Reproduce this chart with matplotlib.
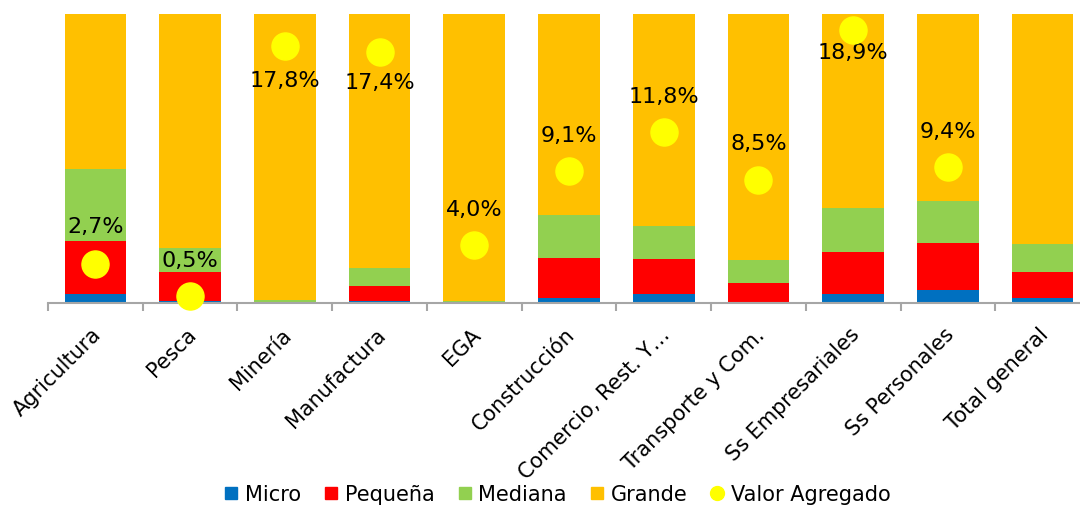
import matplotlib
matplotlib.use('Agg')
import matplotlib.pyplot as plt
import matplotlib.transforms as mtransforms
from matplotlib.lines import Line2D
import numpy as np

# Datos (participación % por tamaño de empresa)
categorias = ['Agricultura', 'Pesca', 'Minería', 'Manufactura', 'EGA', 'Construcción',
              'Comercio, Rest. Y…', 'Transporte y Com.', 'Ss Empresariales',
              'Ss Personales', 'Total general']
micro = [3.0, 0.7, 0.1, 0.6, 0.1, 1.8, 3.0, 0.5, 3.0, 4.4, 1.6]
pequena = [18.6, 10.0, 0.3, 5.2, 0.3, 13.8, 12.1, 6.4, 14.6, 16.4, 9.1]
mediana = [24.9, 8.3, 0.8, 6.4, 0.4, 15.0, 11.7, 7.9, 15.4, 14.4, 9.7]
grande = [53.5, 81.0, 98.8, 87.8, 99.2, 69.4, 73.2, 85.2, 67.0, 64.8, 79.6]
valor_agregado = [2.7, 0.5, 17.8, 17.4, 4.0, 9.1, 11.8, 8.5, 18.9, 9.4, np.nan]

series = [('Micro', micro, '#0070C0'), ('Pequeña', pequena, '#FF0000'),
          ('Mediana', mediana, '#92D050'), ('Grande', grande, '#FFC000')]

# desplazamiento vertical de cada etiqueta (puntos)
label_dy = [27, 26, -25, -22, 26, 26, 26, 27, -16, 26, 0]

fig = plt.figure(figsize=(10.8, 5.06), dpi=100)
ax = fig.add_axes([48 / 1080, 0.3992, 1042 / 1080, 0.5712])

x = np.arange(len(categorias))
bottom = np.zeros(len(categorias))
for name, vals, color in series:
    vals = np.array(vals) / 100
    ax.bar(x, vals, 0.65, bottom=bottom, color=color, label=name)
    bottom += vals

ax.set_xlim(-0.5, len(categorias) - 0.5)
ax.set_ylim(0, 1)
ax.set_yticks([])
for s in ['left', 'right', 'top']:
    ax.spines[s].set_visible(False)
ax.spines['bottom'].set_color('#A6A6A6')
ax.spines['bottom'].set_linewidth(1.5)

ax.set_xticks(x)
ax.set_xticklabels(categorias, rotation=45, ha='right', va='top',
                   rotation_mode='anchor', fontsize=15)
ax.tick_params(axis='x', which='major', length=0, pad=15)
offset = mtransforms.ScaledTranslation(-4 / 100, 0, fig.dpi_scale_trans)
for lab in ax.get_xticklabels():
    lab.set_transform(lab.get_transform() + offset)
ax.set_xticks(np.arange(len(categorias) + 1) - 0.5, minor=True)
ax.tick_params(axis='x', which='minor', length=6, width=1.5, color='#A6A6A6')

ax2 = ax.twinx()
ax2.set_ylim(0, 20)
ax2.axis('off')
ax2.scatter(x, valor_agregado, s=380, color='#FFFF00', zorder=5, clip_on=False)
for xi, v, dy in zip(x, valor_agregado, label_dy):
    if np.isnan(v):
        continue
    ax2.annotate(f'{v:.1f}'.replace('.', ',') + '%', (xi, v), xytext=(0, dy),
                 textcoords='offset points', ha='center', va='center', fontsize=16)

handles = [Line2D([], [], marker='s', linestyle='none', color=c, markersize=9)
           for _, _, c in series]
handles.append(Line2D([], [], marker='o', linestyle='none', color='#FFFF00', markersize=10))
labels = [n for n, _, _ in series] + ['Valor Agregado']
fig.legend(handles, labels, loc='center', bbox_to_anchor=(0.516, 0.022), ncol=5,
           frameon=False, fontsize=15, handlelength=0.7, handletextpad=0.3,
           columnspacing=1.1, borderaxespad=0)

fig.savefig('out.png', dpi=100)
